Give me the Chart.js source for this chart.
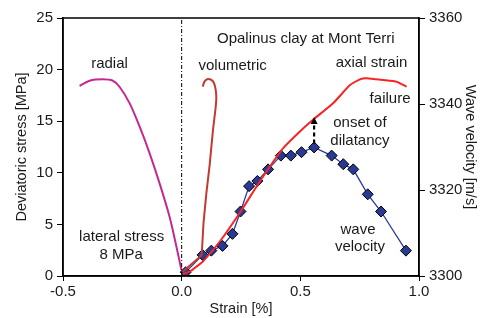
<!DOCTYPE html>
<html>
<head>
<meta charset="utf-8">
<script src="https://cdn.jsdelivr.net/npm/chart.js@4"></script>
<style>
  html, body { margin: 0; padding: 0; background: #fff; }
  #wrap { width: 486px; height: 318px; }
</style>
</head>
<body>
<div id="wrap"><canvas id="chart"></canvas></div>
<script>
// radial strain curve
let radialStrain = [-0.430, -0.388, -0.332, -0.290, -0.262, -0.219, -0.177, -0.135, -0.093, -0.051, -0.022, -0.001];
let radialStress = [18.41, 18.92, 19.06, 18.92, 18.34, 16.73, 14.47, 11.89, 8.98, 5.75, 2.84, 0.58];

// volumetric strain curve
let volStrain = [0.005, 0.042, 0.083, 0.088, 0.092, 0.104, 0.118, 0.132, 0.143, 0.146, 0.143, 0.136, 0.125, 0.112, 0.102, 0.094, 0.089];
let volStress = [0.42, 1.16, 2.03, 3.5, 5.1, 8.0, 10.76, 14.15, 16.3, 17.3, 18.1, 18.7, 19.0, 19.1, 19.0, 18.75, 18.35];

// axial strain curve
let axialStrain = [0.004, 0.025, 0.045, 0.062, 0.089, 0.160, 0.248, 0.315, 0.371, 0.427, 0.505, 0.561, 0.638, 0.709, 0.751, 0.779, 0.849, 0.906, 0.948];
let axialStress = [0.19, 0.35, 0.6, 0.90, 1.39, 3.32, 6.23, 8.65, 10.59, 12.37, 14.15, 15.28, 16.73, 18.5, 19.06, 19.16, 18.99, 18.83, 18.34];

// wave velocity measurements
let waveStrain = [0.017, 0.088, 0.125, 0.172, 0.214, 0.248, 0.284, 0.319, 0.364, 0.418, 0.460, 0.505, 0.558, 0.632, 0.681, 0.723, 0.784, 0.840, 0.945];
let waveVelocity = [3300.9, 3304.9, 3305.9, 3307.0, 3309.8, 3315.0, 3320.9, 3322.1, 3324.8, 3328.0, 3328.0, 3328.8, 3329.9, 3328.0, 3326.0, 3324.8, 3319.0, 3315.0, 3305.9];

// onset of dilatancy arrow
let onsetStrain = 0.558;
let onsetVelocity = 3329.9;
let onsetStress = 15.4;

const FONT = "'Liberation Sans', Arial, Helvetica, sans-serif";
const TEXT = "#1a1a1a";

const toPoints = (xs, ys) => xs.map((x, i) => ({ x: x, y: ys[i] }));

// text labels: [text, strain, stress]
let notes = [
    ["radial", -0.304, 20.6],
    ["volumetric", 0.215, 20.4],
    ["Opalinus clay at Mont Terri", 0.523, 22.95],
    ["axial strain", 0.80, 20.7],
    ["failure", 0.878, 17.15],
    ["onset of", 0.751, 14.8],
    ["dilatancy", 0.751, 13.1],
    ["lateral stress", -0.253, 3.8],
    ["8 MPa", -0.255, 2.03],
    ["wave", 0.743, 4.46],
    ["velocity", 0.751, 2.81]
];

const extras = {
    id: "extras",
    afterDatasetsDraw(chart) {
        const ctx = chart.ctx;
        const x = chart.scales.x, y = chart.scales.y, y2 = chart.scales.y2;
        const a = chart.chartArea;
        ctx.save();

        // dashed arrow
        const ax = x.getPixelForValue(onsetStrain);
        const yBot = y2.getPixelForValue(onsetVelocity) - 4;
        const yTop = y.getPixelForValue(onsetStress);
        ctx.strokeStyle = "#000";
        ctx.lineWidth = 2.2;
        ctx.setLineDash([4, 3]);
        ctx.beginPath();
        ctx.moveTo(ax, yBot);
        ctx.lineTo(ax, yTop + 5);
        ctx.stroke();
        ctx.setLineDash([]);
        ctx.fillStyle = "#000";
        ctx.beginPath();
        ctx.moveTo(ax, yTop);
        ctx.lineTo(ax - 3.5, yTop + 7);
        ctx.lineTo(ax + 3.5, yTop + 7);
        ctx.closePath();
        ctx.fill();

        // box
        ctx.lineWidth = 1.5;
        ctx.strokeRect(a.left, a.top, a.right - a.left, a.bottom - a.top);

        // notes
        ctx.font = "15px " + FONT;
        ctx.fillStyle = TEXT;
        ctx.textAlign = "center";
        ctx.textBaseline = "middle";
        notes.forEach(n => {
            ctx.fillText(n[0], x.getPixelForValue(n[1]), y.getPixelForValue(n[2]));
        });
        ctx.restore();
    }
};

new Chart(document.getElementById("chart"), {
    type: "line",
    data: {
        datasets: [
            {
                data: [{ x: 0, y: 0 }, { x: 0, y: 25 }],
                borderColor: "#000",
                borderWidth: 1,
                borderDash: [4, 2, 1, 2],
                pointRadius: 0
            },
            {
                label: "radial",
                data: toPoints(radialStrain, radialStress),
                borderColor: "#c22a93",
                borderWidth: 2,
                pointRadius: 0,
                tension: 0.3
            },
            {
                label: "volumetric",
                data: toPoints(volStrain, volStress),
                borderColor: "#c23a32",
                borderWidth: 2,
                pointRadius: 0,
                tension: 0.1
            },
            {
                label: "axial strain",
                data: toPoints(axialStrain, axialStress),
                borderColor: "#f52525",
                borderWidth: 2,
                pointRadius: 0,
                tension: 0.15
            },
            {
                label: "wave velocity",
                data: toPoints(waveStrain, waveVelocity),
                yAxisID: "y2",
                borderColor: "#2e3a9c",
                borderWidth: 1.3,
                pointStyle: "rectRot",
                pointRadius: 5.5,
                pointBackgroundColor: "#283a94",
                pointBorderColor: "#000",
                pointBorderWidth: 1
            }
        ]
    },
    options: {
        responsive: true,
        maintainAspectRatio: false,
        animation: false,
        layout: { padding: { top: 18, left: 0, right: 0, bottom: 0 } },
        plugins: {
            legend: { display: false },
            tooltip: { enabled: false }
        },
        scales: {
            x: {
                type: "linear",
                min: -0.5,
                max: 1.0,
                afterFit(s) { s.height = 42; },
                ticks: {
                    stepSize: 0.5,
                    color: TEXT,
                    padding: 2,
                    font: { family: FONT, size: 15 },
                    callback: v => v.toFixed(1)
                },
                grid: { drawOnChartArea: false, drawTicks: true, tickLength: 5, color: "#000" },
                border: { color: "#000", width: 1.5 },
                title: {
                    display: true,
                    text: "Strain [%]",
                    color: TEXT,
                    padding: { top: 0, bottom: 0 },
                    font: { family: FONT, size: 14.5 }
                }
            },
            y: {
                type: "linear",
                position: "left",
                min: 0,
                max: 25,
                afterFit(s) { s.width = 63; },
                ticks: {
                    stepSize: 5,
                    color: TEXT,
                    padding: 4,
                    font: { family: FONT, size: 15 }
                },
                grid: { drawOnChartArea: false, drawTicks: true, tickLength: 6, color: "#000" },
                border: { color: "#000", width: 1.5 },
                title: {
                    display: true,
                    text: "Deviatoric stress [MPa]",
                    color: TEXT,
                    padding: { top: 13, bottom: 0 },
                    font: { family: FONT, size: 14.5 }
                }
            },
            y2: {
                type: "linear",
                position: "right",
                min: 3300,
                max: 3360,
                afterFit(s) { s.width = 67; },
                ticks: {
                    stepSize: 20,
                    color: TEXT,
                    padding: 4,
                    font: { family: FONT, size: 15 },
                    callback: v => String(v)
                },
                grid: { drawOnChartArea: false, drawTicks: true, tickLength: 6, color: "#000" },
                border: { color: "#000", width: 1.5 },
                title: {
                    display: true,
                    text: "Wave velocity [m/s]",
                    color: TEXT,
                    padding: { top: 7, bottom: 0 },
                    font: { family: FONT, size: 14.5 }
                }
            }
        }
    },
    plugins: [extras]
});
</script>
</body>
</html>
